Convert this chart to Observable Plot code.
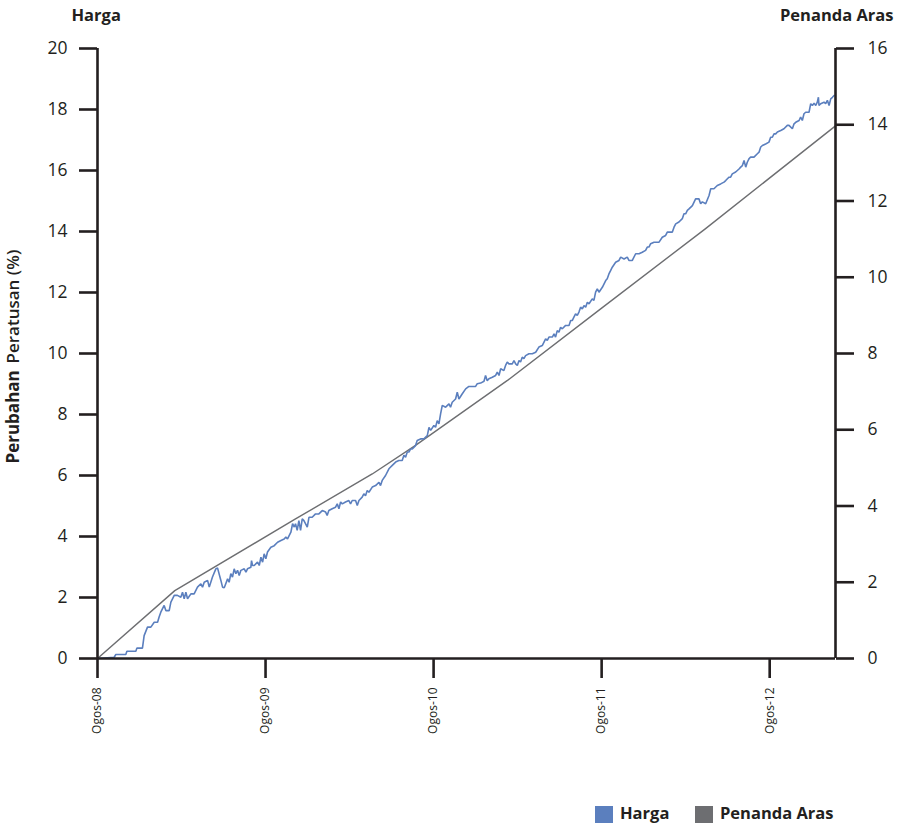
<!DOCTYPE html>
<html>
<head>
<meta charset="utf-8">
<script src="https://cdn.jsdelivr.net/npm/d3@7"></script>
<script src="https://cdn.jsdelivr.net/npm/@observablehq/plot@0.6"></script>
<style>
  html, body { margin: 0; padding: 0; background: #fff; }
  body { width: 897px; height: 829px; overflow: hidden; font-family: "Open Sans", sans-serif; color: #231f20; }
  #legend { position: relative; width: 897px; height: 49px; }
  #legend .sw { position: absolute; top: 26px; width: 18px; height: 17px; }
  #legend .lb { position: absolute; top: 22px; font-weight: 700; font-size: 16.5px; line-height: 22px; color: #231f20; }
</style>
</head>
<body>
<div id="chart"></div>
<div id="legend"></div>
<script>
// Months elapsed since Ogos-08 (August 2008)
const hargaMonths = [
  0,1.19,1.31,2.02,2.10,2.74,2.81,3.21,3.33,3.57,3.81,4.05,4.29,4.40,4.52,4.76,4.88,5.12,5.24,5.48,
  5.71,5.95,6.07,6.19,6.31,6.43,6.67,6.90,7.14,7.38,7.50,7.62,7.86,7.98,8.21,8.45,8.57,8.81,8.93,9.05,
  9.29,9.40,9.52,9.64,9.76,9.88,10.00,10.12,10.24,10.48,10.60,10.71,10.95,11.00,11.07,11.19,11.43,11.55,11.67,11.79,
  11.90,12.02,12.14,12.38,12.62,12.86,13.10,13.33,13.45,13.57,13.81,13.93,14.05,
  14.14,14.26,14.38,14.50,14.62,14.74,14.98,15.10,15.33,15.57,15.81,16.05,16.29,16.40,16.52,16.76,17.00,17.12,17.24,17.36,
  17.48,17.71,17.95,18.07,18.19,18.43,18.55,18.67,18.90,19.02,19.14,19.26,19.38,19.62,19.86,20.10,20.21,20.33,20.57,20.81,
  21.05,21.29,21.52,21.76,21.88,22.00,22.12,22.24,22.36,22.48,22.71,22.83,23.07,23.31,23.55,23.67,23.79,24.02,24.14,24.26,
  24.38,24.50,24.62,24.86,25.10,25.21,25.33,25.57,25.69,25.81,26.05,26.29,26.52,27.00,27.12,27.36,27.60,27.71,27.83,27.95,
  28.19,28.43,28.55,28.67,28.79,29.02,
  29.14,29.26,29.38,29.62,29.74,29.86,29.98,30.10,30.21,30.33,30.45,30.57,30.81,31.05,31.29,31.52,31.76,32.00,32.12,32.24,
  32.48,32.60,32.71,32.83,32.95,33.07,33.19,33.43,33.67,33.79,33.90,34.02,34.14,34.26,34.38,34.50,34.62,34.74,34.86,34.98,
  35.10,35.33,35.45,35.57,35.69,35.81,36.05,36.29,36.40,36.52,36.64,36.76,37.00,37.24,37.36,37.60,37.83,37.95,38.19,38.43,
  38.67,38.90,39.14,39.26,39.38,39.50,39.74,40.10,40.33,40.57,40.69,41.05,41.17,41.29,41.52,41.76,41.88,42.00,42.12,42.24,
  42.48,42.71,42.95,43.07,43.19,43.43,
  43.67,43.79,44.02,44.26,44.50,44.74,44.86,44.98,45.10,45.21,45.33,45.57,45.69,45.81,45.93,46.05,46.17,46.29,46.40,46.52,
  46.64,46.88,47.12,47.24,47.36,47.48,47.71,47.95,48.07,48.19,48.31,48.43,48.55,48.79,49.02,49.26,49.38,49.62,49.74,49.86,
  50.10,50.21,50.33,50.45,50.57,50.81,50.93,51.05,51.17,51.29,51.40,51.48,51.52,51.64,51.88,52.00,52.12,52.24,52.36,52.48,
  52.60
];
// Harga: percentage change (left axis)
const hargaValues = [
  0,0.04,0.13,0.13,0.24,0.24,0.34,0.34,0.75,1.03,1.03,1.19,1.19,1.36,1.52,1.74,1.57,1.57,1.85,2.07,
  2.07,2.01,2.17,1.96,2.17,1.96,2.12,2.12,2.34,2.45,2.34,2.50,2.56,2.34,2.67,2.94,2.97,2.56,2.34,2.32,
  2.61,2.50,2.78,2.67,2.94,2.78,2.89,2.72,2.89,2.94,2.83,2.94,2.99,3.21,3.05,3.05,3.16,3.05,3.32,3.16,
  3.43,3.27,3.49,3.65,3.70,3.81,3.87,3.92,3.98,3.92,4.14,4.42,4.31,
  4.42,4.20,4.52,4.20,4.58,4.52,4.31,4.63,4.63,4.74,4.74,4.85,4.80,4.69,4.85,4.91,4.96,5.07,4.91,5.13,
  5.07,5.13,5.18,5.07,5.18,5.18,5.02,5.18,5.29,5.40,5.34,5.51,5.45,5.62,5.67,5.78,5.67,5.84,6.00,6.22,
  6.33,6.44,6.49,6.49,6.66,6.60,6.77,6.77,6.87,6.87,6.98,7.15,7.20,7.20,7.31,7.58,7.48,7.64,7.58,7.80,
  7.69,8.02,8.30,8.24,8.35,8.24,8.40,8.51,8.73,8.51,8.68,8.84,8.92,8.92,9.01,9.03,9.09,9.28,9.11,9.17,
  9.22,9.28,9.39,9.28,9.50,9.44,
  9.61,9.72,9.66,9.66,9.77,9.66,9.61,9.77,9.72,9.88,9.83,9.93,9.99,9.99,10.04,10.21,10.26,10.48,10.43,10.54,
  10.54,10.64,10.54,10.75,10.70,10.86,10.81,10.92,10.92,11.08,11.08,11.19,11.30,11.25,11.36,11.52,11.46,11.57,11.52,11.68,
  11.63,11.79,11.74,12.01,12.12,12.01,12.17,12.39,12.45,12.61,12.72,12.83,12.99,13.05,13.16,13.10,13.16,13.05,13.05,13.27,
  13.27,13.32,13.38,13.49,13.49,13.60,13.65,13.65,13.81,13.87,13.98,13.98,14.14,14.25,14.31,14.42,14.58,14.58,14.69,14.74,
  14.85,15.07,15.07,14.91,14.97,14.91,
  15.18,15.40,15.40,15.51,15.56,15.62,15.67,15.73,15.78,15.78,15.89,15.95,16.00,16.05,16.11,16.16,16.33,16.11,16.27,16.38,
  16.44,16.44,16.55,16.60,16.77,16.82,16.87,16.93,17.09,17.09,17.20,17.20,17.26,17.31,17.37,17.48,17.48,17.37,17.53,17.58,
  17.64,17.75,17.64,17.86,17.91,17.91,18.19,18.13,18.21,18.13,18.24,18.40,18.13,18.19,18.24,18.19,18.30,18.13,18.35,18.40,
  18.46
];
// Penanda Aras: benchmark (right axis)
const penandaMonths = [0, 5.52, 14.14, 19.62, 22.71, 29.3, 36, 43.4, 52.7];
const penandaValues = [0, 1.78, 3.66, 4.84, 5.59, 7.30, 9.19, 11.27, 13.97];

const xTickMonths = [0, 12, 24, 36, 48];
const xTickLabels = ["Ogos-08", "Ogos-09", "Ogos-10", "Ogos-11", "Ogos-12"];
const leftTicks = [0, 2, 4, 6, 8, 10, 12, 14, 16, 18, 20];
const rightTicks = [0, 2, 4, 6, 8, 10, 12, 14, 16];

const seriesNames = ["Harga", "Penanda Aras"];
const seriesColors = ["#5b7fbe", "#6d6e71"];

const leftMax = 20, rightMax = 16, xMax = 52.7;
const k = leftMax / rightMax;

const hargaData = hargaMonths.map((t, i) => ({ t, v: hargaValues[i] }));
const penandaData = penandaMonths.map((t, i) => ({ t, v: penandaValues[i] }));

const W = 897, H = 780;
const ink = "#231f20";

const chart = Plot.plot({
  width: W,
  height: H,
  marginLeft: 97,
  marginRight: W - 835,
  marginTop: 48,
  marginBottom: H - 658,
  x: { domain: [0, xMax] },
  y: { domain: [0, leftMax] },
  style: { fontFamily: "'Open Sans', sans-serif", color: ink, background: "#fff", overflow: "visible" },
  marks: [
    Plot.line(penandaData, { x: "t", y: d => d.v * k, stroke: seriesColors[1], strokeWidth: 1.4 }),
    Plot.line(hargaData, { x: "t", y: "v", stroke: seriesColors[0], strokeWidth: 1.6, strokeLinejoin: "miter" }),
    Plot.axisY(leftTicks, { anchor: "left", tickSize: 18, tickPadding: 12, fontSize: 17.5, label: null, stroke: ink, strokeWidth: 2.6, fill: ink }),
    Plot.axisY(rightTicks.map(v => v * k), { anchor: "right", tickSize: 18, tickPadding: 14, fontSize: 17.5, label: null, stroke: ink, strokeWidth: 2.6, fill: ink,
      tickFormat: d => String(Math.round(d / k)) }),
    Plot.axisX(xTickMonths, { anchor: "bottom", tickSize: 20, tickPadding: 9, tickRotate: -90, fontSize: 12, label: null, stroke: ink, strokeWidth: 2.6, fill: ink,
      tickFormat: d => xTickLabels[xTickMonths.indexOf(d)] }),
    Plot.ruleX([0], { stroke: ink, strokeWidth: 2.6 }),
    Plot.ruleX([xMax], { stroke: ink, strokeWidth: 2.6 }),
    Plot.ruleY([0], { stroke: ink, strokeWidth: 2.6 }),
    Plot.text([seriesNames[0]], { frameAnchor: "top-left", textAnchor: "start", lineAnchor: "middle", dx: -26, dy: -33, fontSize: 16.5, fontWeight: "bold", fill: ink }),
    Plot.text([seriesNames[1]], { frameAnchor: "top-right", textAnchor: "end", lineAnchor: "middle", dx: 58, dy: -33, fontSize: 16.5, fontWeight: "bold", fill: ink }),
    Plot.text(["Perubahan"], { frameAnchor: "left", textAnchor: "start", lineAnchor: "middle", rotate: -90, dx: -84, dy: 110, fontSize: 17, fontWeight: "bold", fill: ink }),
    Plot.text(["Peratusan (%)"], { frameAnchor: "left", textAnchor: "start", lineAnchor: "middle", rotate: -90, dx: -84, dy: 10, fontSize: 17, fontWeight: 600, fill: ink })
  ]
});
document.getElementById("chart").appendChild(chart);

// Legend below the chart
const legend = document.getElementById("legend");
const legendX = [[595, 620], [695, 720]];
seriesNames.forEach((name, i) => {
  const sw = document.createElement("div");
  sw.className = "sw";
  sw.style.left = legendX[i][0] + "px";
  sw.style.background = seriesColors[i];
  legend.appendChild(sw);
  const lb = document.createElement("div");
  lb.className = "lb";
  lb.style.left = legendX[i][1] + "px";
  lb.textContent = name;
  legend.appendChild(lb);
});
</script>
</body>
</html>
